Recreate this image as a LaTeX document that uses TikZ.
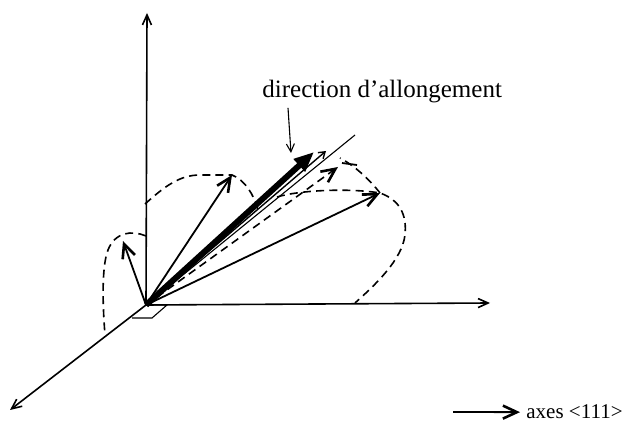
\documentclass[tikz,border=0pt]{standalone}
\usepackage{fontspec}
\setmainfont{Liberation Serif}
\usetikzlibrary{arrows.meta}
\tikzset{
  axis/.style={line width=0.8pt, -{Straight Barb[length=5pt,width=4.5pt]}},
  vec/.style={line width=0.9pt, -{Straight Barb[length=7pt,width=6.5pt,line width=1.3pt]}},
  lobe/.style={line width=0.8pt, dash pattern=on 4pt off 2.6pt},
  elong/.style={line width=3pt, -{Triangle[length=10pt,width=8pt]}},
  thinline/.style={line width=0.55pt},
}

\begin{document}
\begin{tikzpicture}[x=0.5pt, y=-0.5pt]
  \useasboundingbox (0,0) rectangle (627,421);
  \coordinate (O) at (146,305);
  \coordinate (ez) at (147,13);
  \coordinate (ex) at (490,303);
  \coordinate (ey) at (10,410);
  \draw[axis] (O) -- (ez);
  \draw[axis] (O) -- (ex);
  \draw[axis] (O) -- (ey);
  \draw[thinline] (O) -- (167,305) -- (152,318) -- (132,318);

  \draw[lobe] (146,236) .. controls (132,230) and (115,232) .. (108,250)
    .. controls (101,268) and (103,310) .. (105,335);
  \draw[lobe] (145,204) .. controls (165,186) and (180,175) .. (200,175) -- (232,175)
    .. controls (245,180) and (254,195) .. (258,210);
  \draw[lobe] (277,197) .. controls (300,190) and (350,188) .. (380,193)
    .. controls (400,200) and (407,215) .. (405,235)
    .. controls (402,260) and (375,285) .. (355,303);
  \draw[lobe] (380,193) .. controls (370,180) and (355,166) .. (340,158);
  \draw[line width=0.9pt] (342,163) -- (357,165);

  \coordinate (v1) at (123,241);
  \coordinate (v2) at (232,175);
  \coordinate (v3) at (380,193);
  \coordinate (v4) at (338,167);
  \coordinate (v5) at (326,151);
  \coordinate (tl) at (355,135);
  \coordinate (el) at (314,152);
  \draw[vec] (O) -- (v1);
  \draw[vec] (O) -- (v2);
  \draw[vec] (O) -- (v3);
  \draw[vec, lobe] (O) -- (v4);
  \draw[thinline] (O) -- (tl);
  \draw[line width=0.7pt, -{Straight Barb[length=3pt,width=4pt]}] (O) -- (v5);
  \draw[elong] (O) -- (el);

  \node[anchor=base west, inner sep=0pt, font=\fontsize{12.5}{15}\selectfont] (lbl) at (262,98) {direction d'allongement};
  \coordinate (pt) at (291,153);
  \draw[thinline, -{Straight Barb[length=4pt,width=4pt]}] ([shift={(13pt,-2pt)}]lbl.south west) -- (pt);

  \coordinate (la) at (453,412);
  \node[anchor=base west, inner sep=0pt, font=\fontsize{10.5}{12}\selectfont] (leg) at (526,419) {axes <111>};
  \draw[vec] (la) -- ([xshift=-3pt]leg.west);
\end{tikzpicture}
\end{document}
